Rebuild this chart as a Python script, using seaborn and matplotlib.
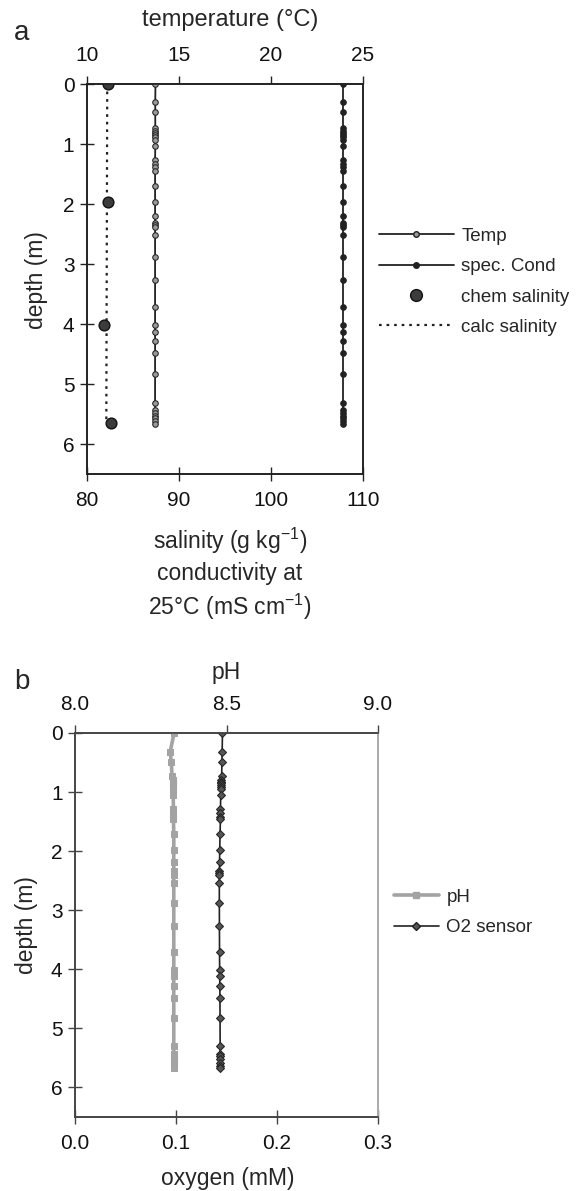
import numpy as np
import pandas as pd
import seaborn as sns
import matplotlib.pyplot as plt
from matplotlib.lines import Line2D

# panel a: sonde profile
depth_a = [0, 0.30, 0.46, 0.74, 0.78, 0.81, 0.85, 0.89, 0.94, 1.04, 1.27, 1.34,
           1.39, 1.45, 1.70, 1.96, 2.20, 2.31, 2.35, 2.39, 2.51, 2.88, 3.27, 3.72,
           4.01, 4.13, 4.28, 4.48, 4.84, 5.32, 5.43, 5.48, 5.54, 5.57, 5.62, 5.66]
temp = [13.72, 13.71, 13.71, 13.71, 13.71, 13.71, 13.71, 13.71, 13.71, 13.71, 13.70, 13.70,
        13.70, 13.70, 13.70, 13.70, 13.70, 13.70, 13.70, 13.70, 13.70, 13.70, 13.70, 13.70,
        13.70, 13.70, 13.70, 13.70, 13.70, 13.70, 13.70, 13.70, 13.70, 13.70, 13.70, 13.70]
spec_cond = [107.8, 107.8, 107.8, 107.8, 107.8, 107.8, 107.8, 107.8, 107.8, 107.8, 107.8, 107.8,
             107.8, 107.8, 107.8, 107.8, 107.8, 107.8, 107.8, 107.8, 107.8, 107.8, 107.8, 107.8,
             107.8, 107.8, 107.8, 107.8, 107.8, 107.8, 107.8, 107.8, 107.8, 107.8, 107.8, 107.8]
chem_depth = [0, 1.97, 4.01, 5.65]
chem_sal = [82.3, 82.3, 81.8, 82.6]
calc_depth = [0, 5.6]
calc_sal = [82.2, 82.1]

# panel b: pH and oxygen
depth_b = [0, 0.32, 0.49, 0.73, 0.80, 0.83, 0.85, 0.88, 0.91, 0.94, 1.05, 1.29, 1.36,
           1.42, 1.46, 1.71, 1.98, 2.19, 2.34, 2.37, 2.40, 2.54, 2.88, 3.26, 3.70,
           4.01, 4.11, 4.28, 4.48, 4.83, 5.29, 5.43, 5.47, 5.52, 5.58, 5.63, 5.67]
ph = [8.327, 8.314, 8.318, 8.320, 8.322, 8.322, 8.323, 8.323, 8.323, 8.324, 8.324, 8.325, 8.325,
      8.325, 8.325, 8.326, 8.326, 8.326, 8.326, 8.326, 8.326, 8.326, 8.326, 8.326, 8.326,
      8.326, 8.326, 8.326, 8.326, 8.326, 8.326, 8.326, 8.326, 8.326, 8.326, 8.326, 8.326]
oxygen = [0.1460, 0.1457, 0.1455, 0.1452, 0.1450, 0.1449, 0.1448, 0.1447, 0.1446, 0.1445, 0.1443, 0.1440, 0.1440,
          0.1440, 0.1440, 0.1436, 0.1433, 0.1431, 0.1430, 0.1429, 0.1429, 0.1429, 0.1429, 0.1430, 0.1431,
          0.1432, 0.1433, 0.1434, 0.1435, 0.1436, 0.1437, 0.1437, 0.1437, 0.1437, 0.1437, 0.1437, 0.1437]

sns.set_style('ticks')
plt.rcParams['font.family'] = ['Liberation Sans', 'DejaVu Sans']
plt.rcParams['mathtext.fontset'] = 'custom'
plt.rcParams['mathtext.rm'] = 'Liberation Sans'
plt.rcParams['mathtext.it'] = 'Liberation Sans'

W, H = 577, 1191
fig = plt.figure(figsize=(W / 100, H / 100), dpi=100)


def px(x, y):
    return x / W, 1 - y / H


def axes_px(left, top, right, bottom):
    return fig.add_axes([left / W, 1 - bottom / H, (right - left) / W, (bottom - top) / H])


dark = '#222222'
fs_tick = 15
fs_lab = 16.5

# ---------- panel a ----------
ax = axes_px(87, 84, 363, 474)
axt = ax.twiny()

sns.lineplot(x=spec_cond, y=depth_a, orient='y', sort=False, estimator=None, ax=ax,
             color=dark, lw=1.3, marker='o', markersize=4, markerfacecolor=dark,
             markeredgecolor=dark, label='spec. Cond')
sns.lineplot(x=calc_sal, y=calc_depth, orient='y', sort=False, estimator=None, ax=ax,
             color=dark, lw=1.6, linestyle=(0, (1.2, 2.2)), label='calc salinity')
sns.scatterplot(x=chem_sal, y=chem_depth, ax=ax, s=60, color='#3c3c3c',
                edgecolor='#111111', linewidth=1, zorder=5, label='chem salinity')
sns.lineplot(x=temp, y=depth_a, orient='y', sort=False, estimator=None, ax=axt,
             color=dark, lw=1.3, marker='o', markersize=4, markerfacecolor='#999999',
             markeredgecolor=dark, label='Temp')

ax.set_xlim(80, 110)
axt.set_xlim(10, 25)
ax.set_ylim(6.5, 0)
ax.set_xticks([80, 90, 100, 110])
axt.set_xticks([10, 15, 20, 25])
ax.set_yticks([0, 1, 2, 3, 4, 5, 6])
for a in (ax, axt):
    if a.get_legend() is not None:
        a.get_legend().remove()
    a.set_xlabel('')
    a.set_ylabel('')
    for s in a.spines.values():
        s.set_color(dark)
        s.set_linewidth(1.2)
ax.tick_params(axis='both', direction='inout', length=10, width=1, labelsize=fs_tick, pad=4, colors=dark)
ax.tick_params(axis='x', pad=7)
axt.tick_params(axis='x', direction='out', length=6, width=1, labelsize=fs_tick, pad=8, colors=dark)
ax.tick_params(labelcolor='#111111')
axt.tick_params(labelcolor='#111111')

handles = [
    Line2D([], [], color=dark, lw=1.3, marker='o', markersize=4, markerfacecolor='#999999', markeredgecolor=dark),
    Line2D([], [], color=dark, lw=1.3, marker='o', markersize=4, markerfacecolor=dark, markeredgecolor=dark),
    Line2D([], [], color='#3c3c3c', lw=0, marker='o', markersize=8.5, markeredgecolor='#111111'),
    Line2D([], [], color=dark, lw=1.6, linestyle=(0, (1.2, 2.2))),
]
fig.legend(handles, ['Temp', 'spec. Cond', 'chem salinity', 'calc salinity'],
           loc='upper left', bbox_to_anchor=px(362, 211), frameon=False, fontsize=13.5,
           handlelength=4.0, handletextpad=0.4, labelspacing=0.7)

fig.text(*px(22, 33), 'a', fontsize=20, ha='center', va='center')
fig.text(*px(230, 20), 'temperature (°C)', fontsize=fs_lab + 0.5, ha='center', va='center')
fig.text(*px(37, 280), 'depth (m)', fontsize=fs_lab, ha='center', va='center', rotation=90)
fig.text(*px(230, 574), 'salinity (g kg$^{-1}$)\nconductivity at\n25°C (mS cm$^{-1}$)',
         fontsize=fs_lab, ha='center', va='center', linespacing=1.3)

# ---------- panel b ----------
bx = axes_px(75, 733, 378, 1117)
bxt = bx.twiny()

sns.lineplot(x=oxygen, y=depth_b, orient='y', sort=False, estimator=None, ax=bx,
             color=dark, lw=1.2, marker='D', markersize=4, markerfacecolor='#555555',
             markeredgecolor=dark, label='O2 sensor', zorder=4)
sns.lineplot(x=ph, y=depth_b, orient='y', sort=False, estimator=None, ax=bxt,
             color='#a3a3a3', lw=2.6, marker='s', markersize=4, markerfacecolor='#a3a3a3',
             markeredgecolor='#a3a3a3', label='pH')

bx.set_xlim(0, 0.3)
bxt.set_xlim(8.0, 9.0)
bx.set_ylim(6.5, 0)
bx.set_xticks([0, 0.1, 0.2, 0.3])
bx.set_xticklabels(['0.0', '0.1', '0.2', '0.3'])
bxt.set_xticks([8.0, 8.5, 9.0])
bxt.set_xticklabels(['8.0', '8.5', '9.0'])
bx.set_yticks([0, 1, 2, 3, 4, 5, 6])
for a in (bx, bxt):
    if a.get_legend() is not None:
        a.get_legend().remove()
    a.set_xlabel('')
    a.set_ylabel('')
    for s in a.spines.values():
        s.set_color('#444444')
        s.set_linewidth(1.2)
    a.spines['right'].set_color('#aaaaaa')
bx.tick_params(axis='both', direction='inout', length=10, width=1, labelsize=fs_tick, pad=4, colors='#444444')
bx.tick_params(axis='x', pad=7)
bxt.tick_params(axis='x', direction='out', length=6, width=1, labelsize=fs_tick, pad=8, colors='#444444')
bx.tick_params(labelcolor='#111111')
bxt.tick_params(labelcolor='#111111')

handles_b = [
    Line2D([], [], color='#a3a3a3', lw=2.6, marker='s', markersize=4),
    Line2D([], [], color=dark, lw=1.2, marker='D', markersize=4, markerfacecolor='#555555', markeredgecolor=dark),
]
fig.legend(handles_b, ['pH', 'O2 sensor'], loc='upper left', bbox_to_anchor=px(377, 872),
           frameon=False, fontsize=13.5, handlelength=2.4, handletextpad=0.4, labelspacing=0.7)

fig.text(*px(22, 682), 'b', fontsize=20, ha='center', va='center')
fig.text(*px(226, 673), 'pH', fontsize=fs_lab, ha='center', va='center')
fig.text(*px(27, 925), 'depth (m)', fontsize=fs_lab, ha='center', va='center', rotation=90)
fig.text(*px(228, 1178), 'oxygen (mM)', fontsize=fs_lab, ha='center', va='center')

fig.savefig('out.png', dpi=100)
